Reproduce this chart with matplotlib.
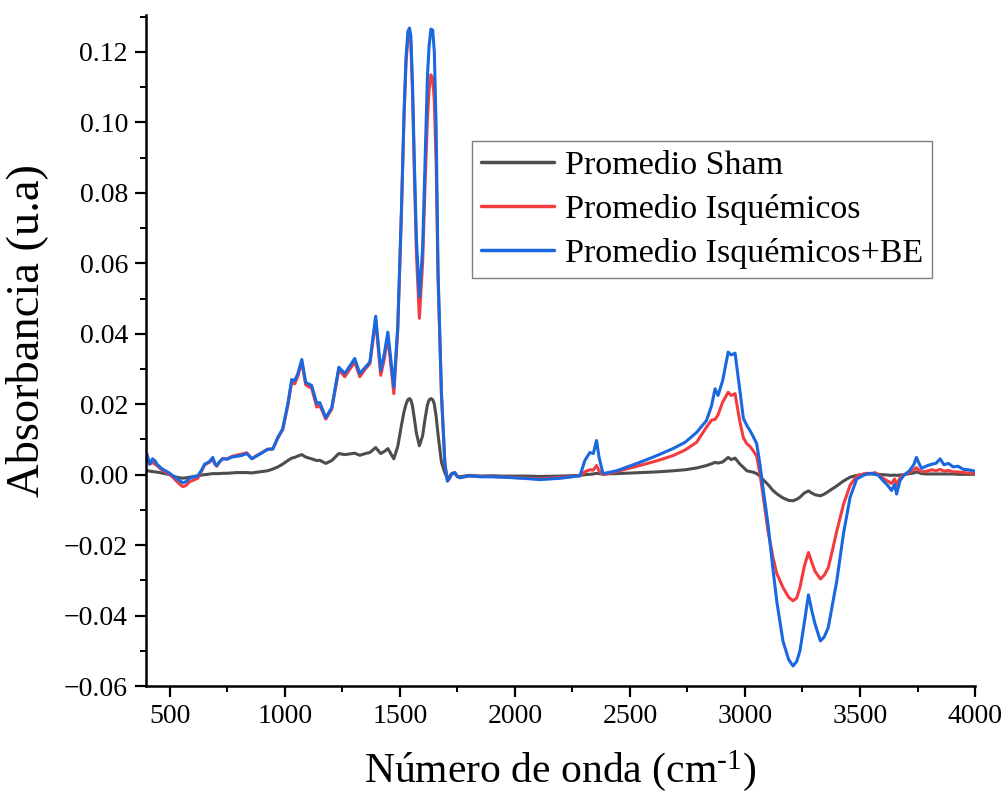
import matplotlib
matplotlib.use("Agg")
import matplotlib.pyplot as plt
from matplotlib.ticker import MultipleLocator, FuncFormatter

plt.rcParams['font.family'] = ['Liberation Serif', 'DejaVu Serif']
plt.rcParams['mathtext.fontset'] = 'custom'
plt.rcParams['mathtext.rm'] = 'Liberation Serif'
plt.rcParams['mathtext.it'] = 'Liberation Serif:italic'

# Wavenumber grid (cm^-1)
wavenumber = [
    400, 413, 425, 435, 447, 457, 470, 485, 500, 515, 529, 545, 557, 570, 587, 605,
    622, 640, 652, 665, 674, 687, 696, 704, 715, 730, 750, 770, 790, 810, 835, 857,
    880, 904, 925, 948, 970, 991, 1013, 1030, 1043, 1057, 1074, 1091, 1117, 1139,
    1152, 1178, 1204, 1235, 1261, 1304, 1326, 1350, 1370, 1395, 1417, 1433, 1448,
    1474, 1491, 1507, 1518, 1527, 1535, 1542, 1548, 1555, 1563, 1572, 1585, 1599,
    1610, 1620, 1627, 1635, 1643, 1650, 1658, 1666, 1681, 1696, 1707, 1716, 1725,
    1739, 1750, 1761, 1800, 1850, 1900, 1950, 2000, 2050, 2109, 2200, 2283, 2304,
    2326, 2341, 2355, 2366, 2383, 2442, 2543, 2620, 2687, 2740, 2790, 2833, 2855,
    2870, 2883, 2903, 2927, 2940, 2957, 2978, 2993, 3008, 3022, 3036, 3051, 3065,
    3080, 3100, 3122, 3138, 3165, 3190, 3209, 3225, 3239, 3258, 3276, 3290, 3305,
    3328, 3345, 3362, 3380, 3399, 3428, 3457, 3486, 3515, 3530, 3550, 3565, 3580,
    3600, 3620, 3637, 3650, 3659, 3674, 3690, 3715, 3735, 3745, 3758, 3768, 3790,
    3813, 3830, 3848, 3865, 3884, 3905, 3926, 3950, 3970, 4000,
]

sham = [
    0.0012, 0.0010, 0.0009, 0.0008, 0.0007, 0.0006, 0.0004, 0.0002, 0.0000, -0.0004,
    -0.0007, -0.0009, -0.0010, -0.0009, -0.0007, -0.0005, -0.0003, -0.0001, 0.0000,
    0.0001, 0.0002, 0.0003, 0.0003, 0.0003, 0.0003, 0.0004, 0.0004, 0.0005, 0.0006,
    0.0006, 0.0006, 0.0005, 0.0007, 0.0009, 0.0011, 0.0016, 0.0022, 0.0030, 0.0040,
    0.0047, 0.0049, 0.0053, 0.0057, 0.0050, 0.0045, 0.0040, 0.0041, 0.0032, 0.0040,
    0.0060, 0.0057, 0.0061, 0.0055, 0.0060, 0.0063, 0.0077, 0.0060, 0.0066, 0.0074,
    0.0045, 0.0080, 0.0140, 0.0178, 0.0200, 0.0213, 0.0216, 0.0212, 0.0195, 0.0160,
    0.0118, 0.0082, 0.0110, 0.0160, 0.0198, 0.0212, 0.0216, 0.0213, 0.0200, 0.0165,
    0.0115, 0.0035, 0.0005, -0.0010, -0.0005, 0.0002, 0.0004, -0.0004, -0.0006,
    -0.0002, -0.0004, -0.0003, -0.0004, -0.0004, -0.0004, -0.0005, -0.0004, -0.0002,
    0.0000, 0.0001, 0.0002, 0.0004, 0.0003, 0.0002, 0.0003, 0.0006, 0.0008, 0.0011,
    0.0014, 0.0019, 0.0026, 0.0031, 0.0035, 0.0033, 0.0036, 0.0049, 0.0043, 0.0047,
    0.0030, 0.0021, 0.0011, 0.0009, 0.0007, 0.0003, -0.0004, -0.0015, -0.0028,
    -0.0045, -0.0054, -0.0066, -0.0073, -0.0074, -0.0070, -0.0064, -0.0052, -0.0046,
    -0.0052, -0.0057, -0.0060, -0.0055, -0.0048, -0.0040, -0.0032, -0.0018, -0.0007,
    -0.0002, 0.0001, 0.0002, 0.0002, 0.0002, 0.0001, 0.0000, -0.0001, -0.0002,
    -0.0001, -0.0002, -0.0001, 0.0000, 0.0003, 0.0005, 0.0008, 0.0005, 0.0003,
    0.0002, 0.0002, 0.0002, 0.0002, 0.0002, 0.0002, 0.0002, 0.0001, 0.0001, 0.0001,
    0.0001,
]

isquemicos = [
    0.0050, 0.0030, 0.0035, 0.0030, 0.0025, 0.0018, 0.0012, 0.0006, 0.0000, -0.0008,
    -0.0018, -0.0028, -0.0034, -0.0031, -0.0020, -0.0015, -0.0010, 0.0012, 0.0028,
    0.0033, 0.0036, 0.0045, 0.0030, 0.0024, 0.0034, 0.0046, 0.0045, 0.0052, 0.0055,
    0.0058, 0.0062, 0.0046, 0.0055, 0.0064, 0.0072, 0.0073, 0.0104, 0.0128, 0.0195,
    0.0262, 0.0258, 0.0280, 0.0320, 0.0255, 0.0245, 0.0192, 0.0197, 0.0158, 0.0186,
    0.0298, 0.0278, 0.0320, 0.0278, 0.0300, 0.0315, 0.0440, 0.0282, 0.0330, 0.0392,
    0.0230, 0.0410, 0.0740, 0.1010, 0.1170, 0.1240, 0.1250, 0.1225, 0.1090, 0.0860,
    0.0630, 0.0444, 0.0600, 0.0830, 0.1010, 0.1090, 0.1135, 0.1125, 0.1060, 0.0880,
    0.0560, 0.0225, 0.0030, -0.0018, -0.0010, 0.0002, 0.0006, -0.0006, -0.0008,
    -0.0004, -0.0005, -0.0005, -0.0007, -0.0008, -0.0010, -0.0012, -0.0008, -0.0003,
    0.0008, 0.0014, 0.0013, 0.0026, 0.0011, 0.0000, 0.0009, 0.0026, 0.0040, 0.0054,
    0.0070, 0.0092, 0.0135, 0.0155, 0.0157, 0.0170, 0.0206, 0.0234, 0.0225, 0.0230,
    0.0150, 0.0105, 0.0088, 0.0080, 0.0068, 0.0052, 0.0003, -0.0065, -0.0160,
    -0.0235, -0.0280, -0.0320, -0.0348, -0.0358, -0.0350, -0.0320, -0.0260, -0.0221,
    -0.0248, -0.0275, -0.0296, -0.0285, -0.0264, -0.0215, -0.0160, -0.0085, -0.0030,
    -0.0004, 0.0002, 0.0004, 0.0003, 0.0006, 0.0000, -0.0010, -0.0018, -0.0025,
    -0.0012, -0.0030, -0.0008, 0.0000, 0.0006, 0.0015, 0.0020, 0.0012, 0.0008,
    0.0010, 0.0014, 0.0011, 0.0015, 0.0010, 0.0012, 0.0008, 0.0008, 0.0006, 0.0005,
    0.0004,
]

isquemicos_be = [
    0.0060, 0.0030, 0.0045, 0.0040, 0.0028, 0.0022, 0.0015, 0.0010, 0.0004, -0.0004,
    -0.0010, -0.0018, -0.0023, -0.0020, -0.0010, -0.0006, -0.0004, 0.0015, 0.0030,
    0.0034, 0.0038, 0.0049, 0.0032, 0.0026, 0.0036, 0.0045, 0.0044, 0.0050, 0.0052,
    0.0054, 0.0060, 0.0045, 0.0054, 0.0063, 0.0072, 0.0073, 0.0106, 0.0130, 0.0200,
    0.0270, 0.0267, 0.0287, 0.0327, 0.0262, 0.0253, 0.0202, 0.0205, 0.0162, 0.0190,
    0.0305, 0.0287, 0.0330, 0.0287, 0.0305, 0.0320, 0.0450, 0.0296, 0.0345, 0.0405,
    0.0248, 0.0420, 0.0750, 0.1020, 0.1185, 0.1258, 0.1268, 0.1245, 0.1110, 0.0890,
    0.0670, 0.0505, 0.0640, 0.0900, 0.1130, 0.1215, 0.1265, 0.1262, 0.1200, 0.0980,
    0.0580, 0.0230, 0.0030, -0.0018, -0.0010, 0.0003, 0.0006, -0.0005, -0.0009,
    -0.0003, -0.0006, -0.0006, -0.0007, -0.0009, -0.0011, -0.0014, -0.0010, -0.0003,
    0.0040, 0.0063, 0.0060, 0.0097, 0.0049, 0.0003, 0.0011, 0.0035, 0.0055, 0.0074,
    0.0092, 0.0120, 0.0154, 0.0196, 0.0244, 0.0225, 0.0267, 0.0348, 0.0340, 0.0345,
    0.0239, 0.0160, 0.0140, 0.0125, 0.0108, 0.0088, 0.0030, -0.0045, -0.0140,
    -0.0270, -0.0358, -0.0472, -0.0525, -0.0543, -0.0530, -0.0500, -0.0420, -0.0341,
    -0.0385, -0.0425, -0.0472, -0.0460, -0.0434, -0.0370, -0.0302, -0.0168, -0.0064,
    -0.0012, -0.0002, 0.0002, 0.0004, 0.0001, -0.0002, -0.0017, -0.0030, -0.0045,
    -0.0028, -0.0055, -0.0017, -0.0002, 0.0011, 0.0030, 0.0049, 0.0030, 0.0018,
    0.0025, 0.0030, 0.0032, 0.0045, 0.0028, 0.0032, 0.0022, 0.0024, 0.0015, 0.0014,
    0.0010,
]

labels = ["Promedio Sham", "Promedio Isquémicos", "Promedio Isquémicos+BE"]
colors = ["#4d4d4d", "#f23c3f", "#1a68e0"]

fig = plt.figure(figsize=(10.05, 8.02), dpi=100)
ax = fig.add_axes([0.1453, 0.1446, 0.8249, 0.8367])

for series, lab, col in zip([sham, isquemicos, isquemicos_be], labels, colors):
    ax.plot(wavenumber, series, color=col, lw=2.2, label=lab,
            solid_joinstyle='round', solid_capstyle='round')

ax.set_xlim(397, 4000)
ax.set_ylim(-0.06, 0.1305)

ax.xaxis.set_major_locator(MultipleLocator(500))
ax.xaxis.set_minor_locator(MultipleLocator(250))
ax.yaxis.set_major_locator(MultipleLocator(0.02))
ax.yaxis.set_minor_locator(MultipleLocator(0.01))
ax.yaxis.set_major_formatter(FuncFormatter(
    lambda v, p: f"{v:.2f}".replace("-", "\u2212") if abs(v) > 1e-9 else "0.00"))

for side in ("top", "right"):
    ax.spines[side].set_visible(False)
for side in ("left", "bottom"):
    ax.spines[side].set_linewidth(1.8)

ax.tick_params(which="major", direction="out", length=8, width=1.6, labelsize=20, pad=5)
ax.tick_params(which="minor", direction="out", length=4.5, width=1.4)

ax.set_xlabel("Número de onda (cm$^{\\text{-1}}$)", fontsize=30, labelpad=14)
ax.set_ylabel("Absorbancia (u.a)", fontsize=33.5)
ax.yaxis.set_label_coords(-0.118, 0.53)

leg = ax.legend(loc="upper left", bbox_to_anchor=(0.4697, 0.8242),
                bbox_transform=fig.transFigure, fontsize=24.5, frameon=True,
                fancybox=False, framealpha=1, edgecolor="#7f7f7f",
                handlelength=2.15, handletextpad=0.3, labelspacing=0.38,
                borderpad=0.27, borderaxespad=0)
leg.get_frame().set_linewidth(1.0)
for line in leg.get_lines():
    line.set_linewidth(2.5)

fig.savefig("out.png", dpi=100)
